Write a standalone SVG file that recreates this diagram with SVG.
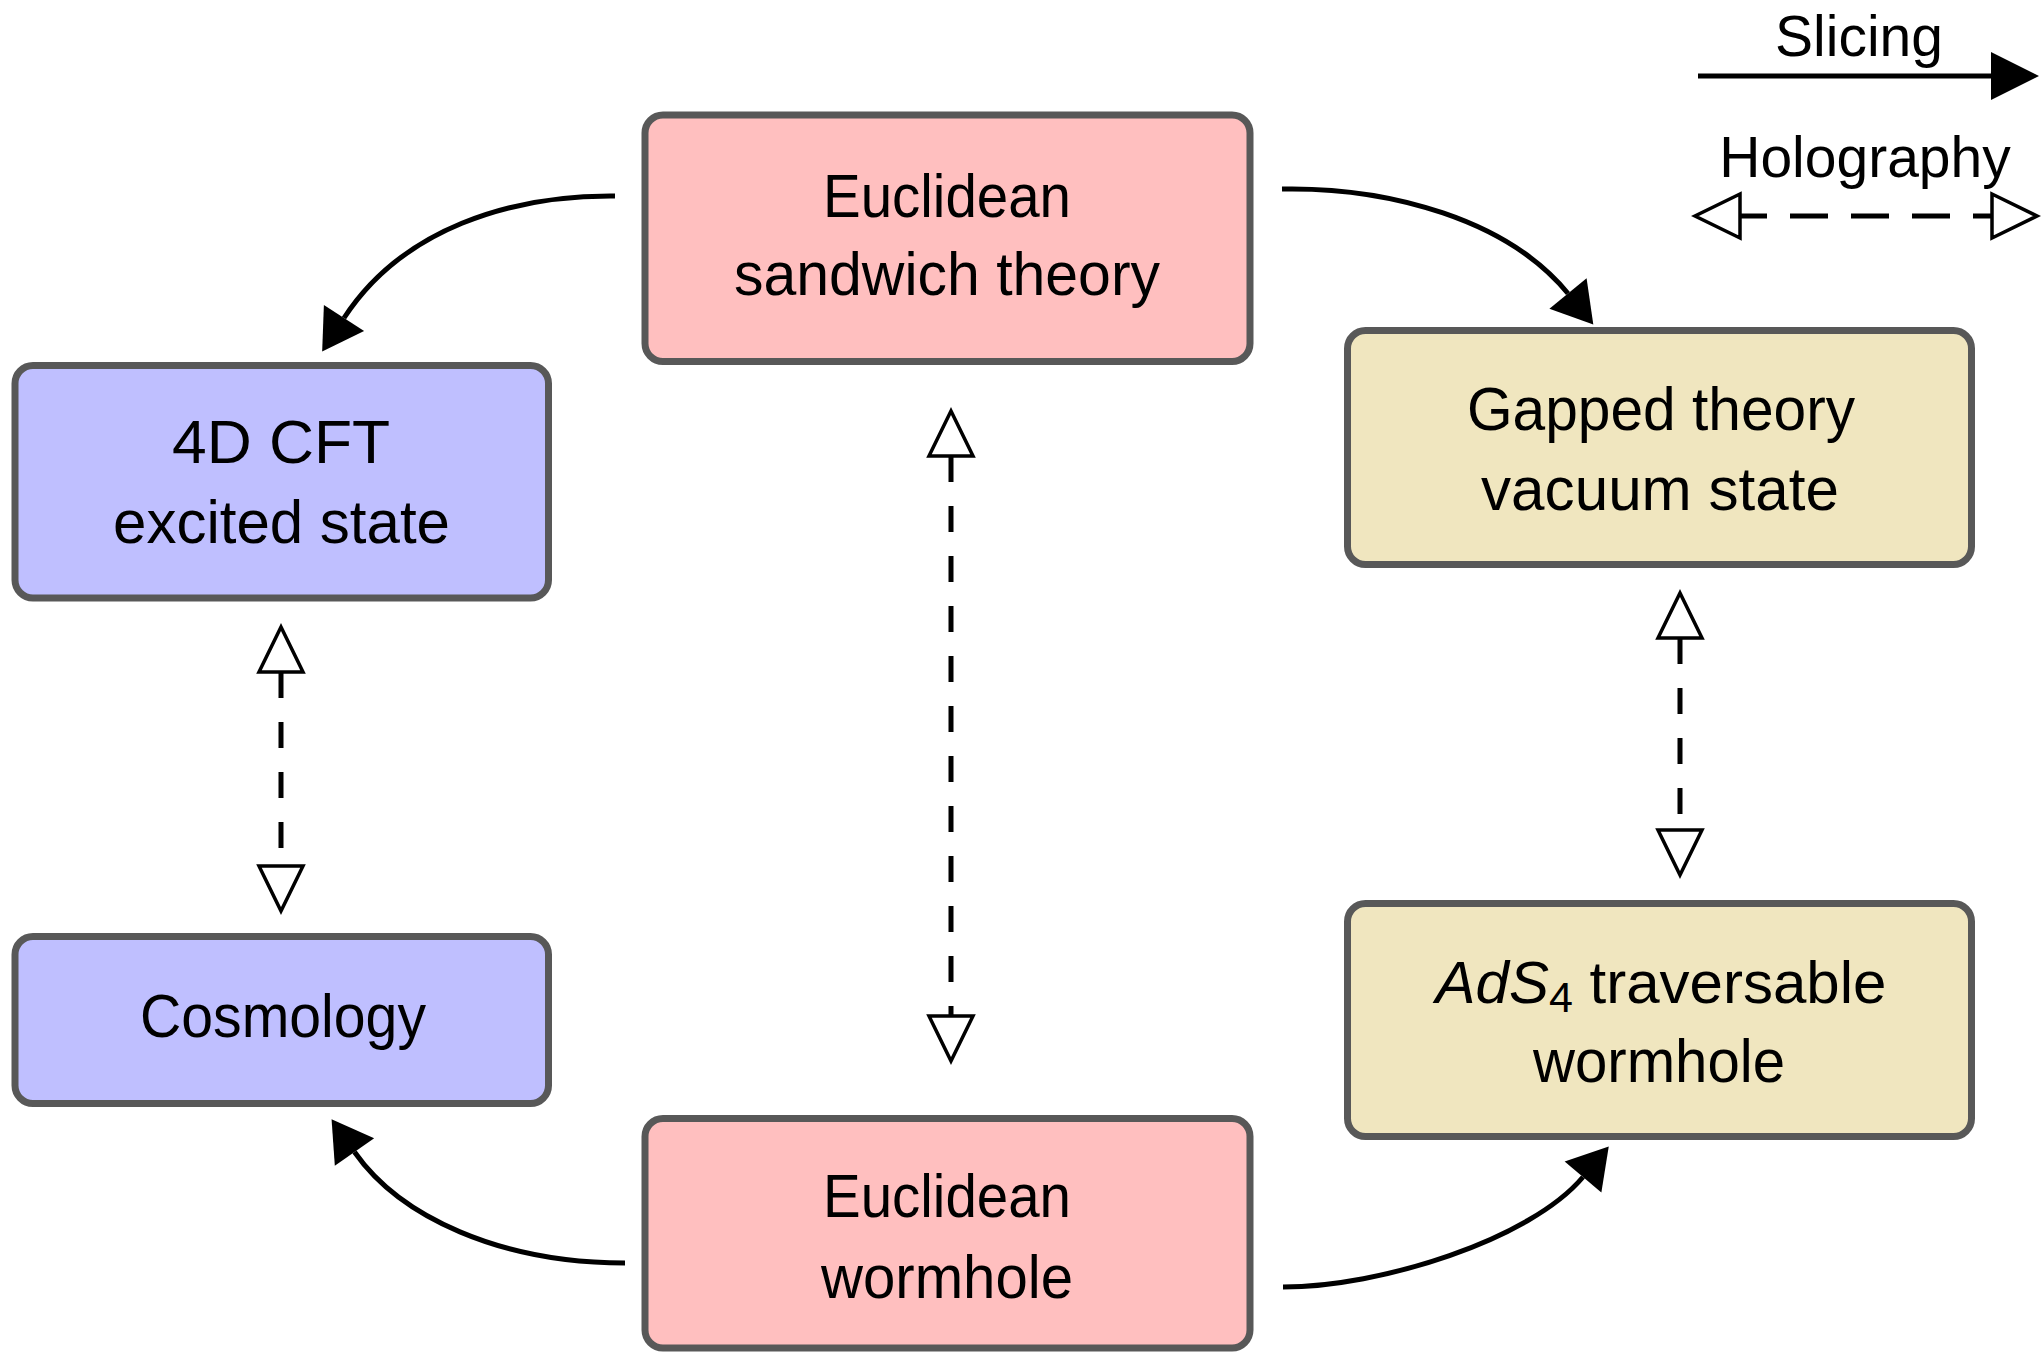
<svg xmlns="http://www.w3.org/2000/svg" width="2041" height="1356" viewBox="0 0 2041 1356">
<style>
  .box { stroke: #585858; stroke-width: 7; }
  .pink { fill: #FFBFBF; }
  .blue { fill: #BFBFFF; }
  .tan { fill: #F0E6BF; }
  .lbl { font-family: "Liberation Sans", Arial, sans-serif; font-size: 61px; fill: #000; text-anchor: middle; }
  .leg { font-family: "Liberation Sans", Arial, sans-serif; font-size: 57px; fill: #000; text-anchor: middle; }
  .slice { fill: none; stroke: #000; stroke-width: 5; }
  .holo { fill: none; stroke: #000; stroke-width: 5; stroke-dasharray: 26 24; }
</style>
<defs>
  <marker id="solid" markerUnits="userSpaceOnUse" markerWidth="50" markerHeight="52" viewBox="0 -26 50 52" refX="0" refY="0" orient="auto" overflow="visible">
    <polygon points="0,-24 40,0 0,24" fill="#000" stroke="none"/>
  </marker>
  <marker id="solidLeg" markerUnits="userSpaceOnUse" markerWidth="50" markerHeight="52" viewBox="0 -26 50 52" refX="0" refY="0" orient="auto" overflow="visible">
    <polygon points="0,-24 48,0 0,24" fill="#000" stroke="none"/>
  </marker>
  <marker id="open" markerUnits="userSpaceOnUse" markerWidth="52" markerHeight="56" viewBox="-2 -28 52 56" refX="0" refY="0" orient="auto-start-reverse" overflow="visible">
    <polygon points="0,-22 45,0 0,22" fill="#fff" stroke="#000" stroke-width="3.5" stroke-dasharray="none" stroke-linejoin="miter"/>
  </marker>
</defs>

<g id="legend">
  <text class="leg" x="1859" y="56">Slicing</text>
  <path class="slice" d="M1698,76 L1991,76" marker-end="url(#solidLeg)"/>
  <text class="leg" x="1865" y="177">Holography</text>
  <path class="holo" d="M1740,216 L1992,216" style="stroke-dasharray:38 23;stroke-dashoffset:11" marker-start="url(#open)" marker-end="url(#open)"/>
</g>

<g id="connectors">
  <path id="e-sandwich-cft" class="slice" d="M615,196 C510,195 402,229 344,318" marker-end="url(#solid)"/>
  <path id="e-sandwich-gapped" class="slice" d="M1282,189 C1390,187 1508,220 1568,293.5" marker-end="url(#solid)"/>
  <path id="e-wormhole-cosmo" class="slice" d="M625,1263 C500,1263 400,1217 354.5,1152" marker-end="url(#solid)"/>
  <path id="e-wormhole-ads" class="slice" d="M1283,1287 C1380,1287 1530,1240 1583,1177" marker-end="url(#solid)"/>
  <path id="h-cft-cosmo" class="holo" d="M281,672 L281,866" marker-start="url(#open)" marker-end="url(#open)"/>
  <path id="h-sandwich-wormhole" class="holo" d="M951,456 L951,1016" marker-start="url(#open)" marker-end="url(#open)"/>
  <path id="h-gapped-ads" class="holo" d="M1680,638 L1680,830" marker-start="url(#open)" marker-end="url(#open)"/>
</g>

<g id="node-sandwich">
  <rect class="box pink" x="645" y="115" width="605" height="246.5" rx="18"/>
  <text class="lbl" x="947" y="216.5" textLength="248" lengthAdjust="spacingAndGlyphs">Euclidean</text>
  <text class="lbl" x="947" y="295" textLength="426" lengthAdjust="spacingAndGlyphs">sandwich theory</text>
</g>

<g id="node-cft">
  <rect class="box blue" x="15" y="365.5" width="533.5" height="232.5" rx="18"/>
  <text class="lbl" x="281" y="463" textLength="218" lengthAdjust="spacingAndGlyphs">4D CFT</text>
  <text class="lbl" x="281.5" y="543" textLength="337" lengthAdjust="spacingAndGlyphs">excited state</text>
</g>

<g id="node-cosmology">
  <rect class="box blue" x="15" y="936.5" width="533.5" height="167" rx="18"/>
  <text class="lbl" x="283" y="1037" textLength="286" lengthAdjust="spacingAndGlyphs">Cosmology</text>
</g>

<g id="node-gapped">
  <rect class="box tan" x="1347.5" y="330.5" width="624" height="234" rx="18"/>
  <text class="lbl" x="1661" y="430" textLength="388" lengthAdjust="spacingAndGlyphs">Gapped theory</text>
  <text class="lbl" x="1660" y="510" textLength="358" lengthAdjust="spacingAndGlyphs">vacuum state</text>
</g>

<g id="node-ads">
  <rect class="box tan" x="1347.5" y="903.5" width="624" height="233" rx="18"/>
  <text class="lbl" x="1661" y="1003" style="font-size:60px"><tspan font-style="italic">AdS</tspan><tspan font-size="43" dy="9">4</tspan><tspan dy="-9"> traversable</tspan></text>
  <text class="lbl" x="1659" y="1082" textLength="252" lengthAdjust="spacingAndGlyphs">wormhole</text>
</g>

<g id="node-wormhole">
  <rect class="box pink" x="645" y="1118.5" width="605" height="229.5" rx="18"/>
  <text class="lbl" x="947" y="1217" textLength="248" lengthAdjust="spacingAndGlyphs">Euclidean</text>
  <text class="lbl" x="947" y="1298" textLength="252" lengthAdjust="spacingAndGlyphs">wormhole</text>
</g>
</svg>
